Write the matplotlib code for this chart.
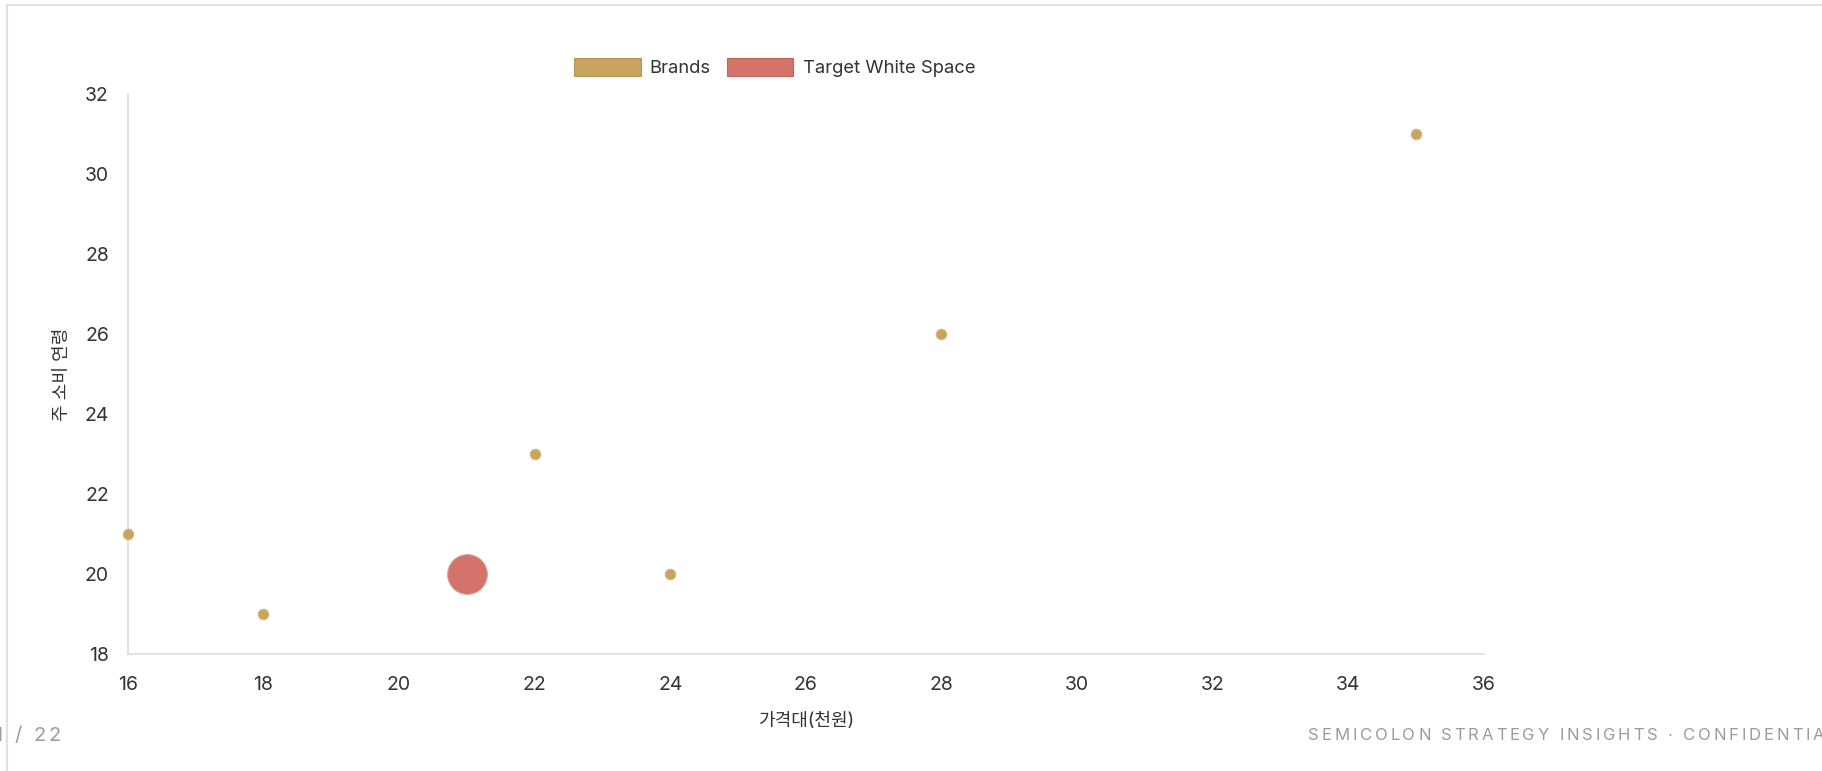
import matplotlib
matplotlib.use("Agg")
import matplotlib.pyplot as plt
from matplotlib.patches import Patch
from matplotlib.lines import Line2D

# ---- data ----
brand_price = [16, 18, 22, 24, 28, 35]
brand_age = [21, 19, 23, 20, 26, 31]
target_price = [21]
target_age = [20]

x_ticks = [16, 18, 20, 22, 24, 26, 28, 30, 32, 34, 36]
y_ticks = [18, 20, 22, 24, 26, 28, 30, 32]

x_label = "가격대(천원)"
y_label = "주 소비 연령"
legend_labels = ["Brands", "Target White Space"]
page_text = "1 / 22"
footer_text = "SEMICOLON STRATEGY INSIGHTS · CONFIDENTIAL"

GOLD = "#C9A45F"
GOLD_EDGE = "#B9955A"
RED = "#D4736A"
RED_EDGE = "#C4655C"
TEXT = "#333333"
MUTED = "#9B9B9B"
AXIS = "#DDDDDD"

plt.rcParams["font.family"] = ["Inter", "Noto Sans CJK KR", "DejaVu Sans"]

W, H, DPI = 1822, 771, 100
fig = plt.figure(figsize=(W / DPI, H / DPI), dpi=DPI)
fig.patch.set_facecolor("white")

# card outline
fig.add_artist(Line2D([7 / W, 7 / W], [0, 1 - 5 / H], transform=fig.transFigure,
                      color="#E2E2E2", lw=1.6))
fig.add_artist(Line2D([7 / W, 1], [1 - 5 / H, 1 - 5 / H], transform=fig.transFigure,
                      color="#E2E2E2", lw=1.6))

ax_l, ax_r = 127.7 / W, 1484 / W
ax_b, ax_t = 1 - 654 / H, 1 - 94 / H
ax = fig.add_axes([ax_l, ax_b, ax_r - ax_l, ax_t - ax_b])

ax.scatter(brand_price, brand_age, s=60, color=GOLD, edgecolors="#D8BE8E",
           linewidths=0.6, zorder=3, clip_on=False)
ax.scatter(target_price, target_age, s=820, color=RED, edgecolors="#D9A49E",
           linewidths=0.8, zorder=3, clip_on=False)

ax.set_xlim(16, 36)
ax.set_ylim(18, 32)
ax.set_xticks(x_ticks)
ax.set_yticks(y_ticks)

for s in ["top", "right"]:
    ax.spines[s].set_visible(False)
for s in ["left", "bottom"]:
    ax.spines[s].set_color(AXIS)
    ax.spines[s].set_linewidth(1.2)

ax.tick_params(axis="x", length=0, pad=15.5, labelsize=14, labelcolor=TEXT)
ax.tick_params(axis="y", length=0, pad=13.5, labelsize=14, labelcolor=TEXT)

ax.set_xlabel(x_label, fontsize=13, color=TEXT, labelpad=14)
ax.set_ylabel(y_label, fontsize=13, color=TEXT, labelpad=10)

handles = [
    Patch(facecolor=GOLD, edgecolor=GOLD_EDGE, linewidth=0.8),
    Patch(facecolor=RED, edgecolor=RED_EDGE, linewidth=0.8),
]
fig.legend(handles, legend_labels, loc="center left",
           bbox_to_anchor=(574 / W, 1 - 67.5 / H), ncol=2, frameon=False,
           fontsize=13.3, handlelength=3.6, handleheight=1.1, handletextpad=0.5,
           columnspacing=0.88, borderpad=0, borderaxespad=0, labelcolor=TEXT)


def spaced_text(x_px, y_px, text, size, color, spacing_px):
    """Draw text with extra letter spacing, starting at x_px (pixels)."""
    renderer = fig.canvas.get_renderer()
    x = x_px
    for ch in text:
        t = fig.text(x / W, 1 - y_px / H, ch, fontsize=size, color=color,
                     va="center", ha="left")
        if ch == " ":
            w = t.get_fontsize() * DPI / 72 * 0.28
        else:
            w = t.get_window_extent(renderer).width
        x += w + spacing_px


spaced_text(-6, 736, page_text, 14.5, MUTED, 3.2)
spaced_text(1308, 736, footer_text, 12, MUTED, 2.85)

fig.savefig("out.png", dpi=DPI, facecolor="white")
